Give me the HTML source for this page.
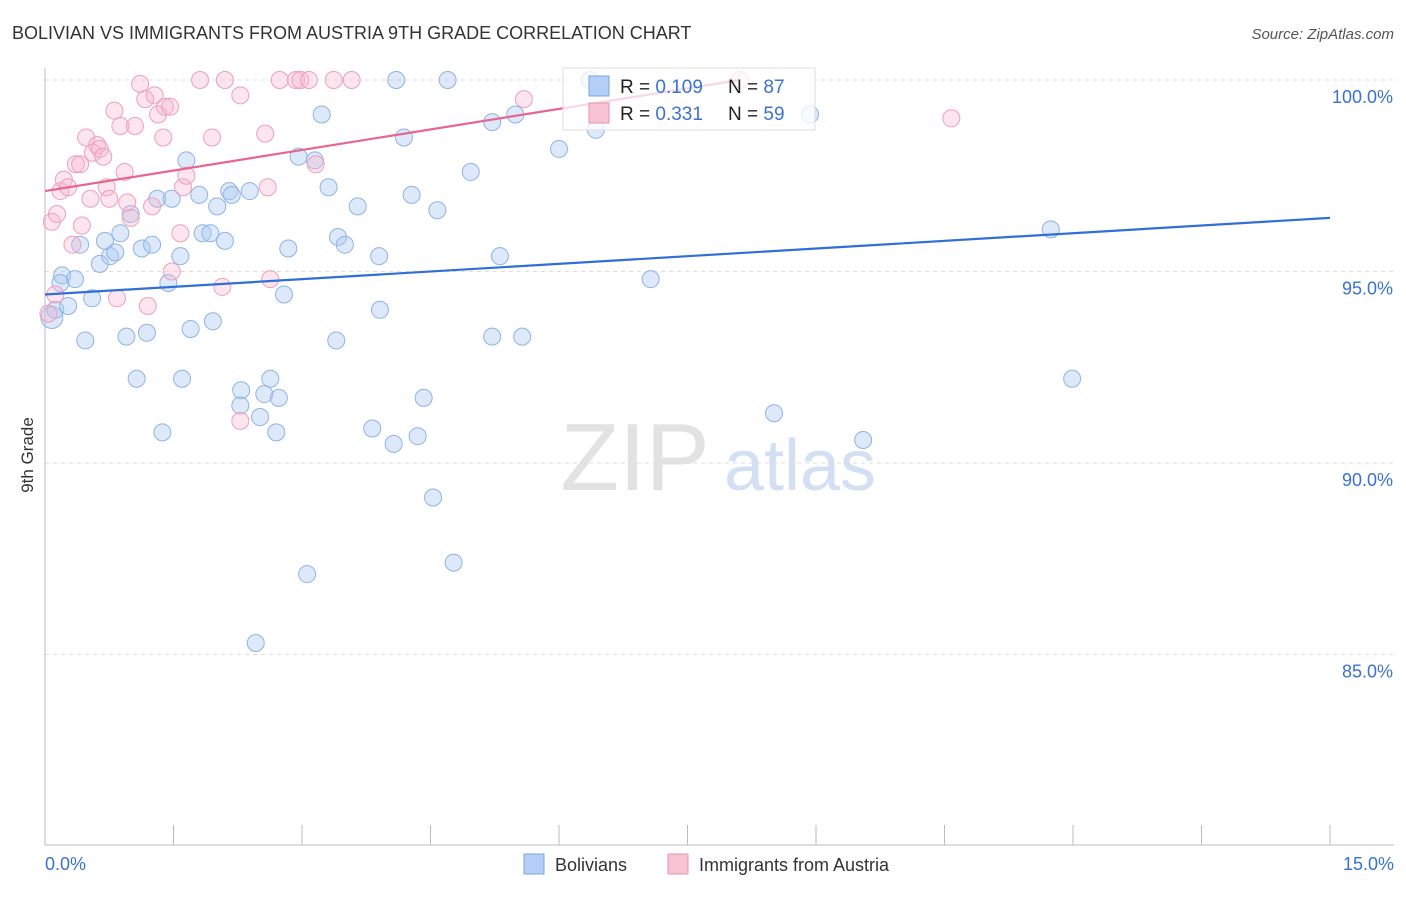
<!DOCTYPE html>
<html><head><meta charset="utf-8">
<style>
body{margin:0;background:#fff;font-family:"Liberation Sans",sans-serif;}
svg text{font-family:"Liberation Sans",sans-serif;}
</style></head>
<body>
<svg id="chart" width="1406" height="892" xmlns="http://www.w3.org/2000/svg">
<text x="12" y="39" font-size="18" fill="#333">BOLIVIAN VS IMMIGRANTS FROM AUSTRIA 9TH GRADE CORRELATION CHART</text>
<text x="1394" y="39" font-size="15" fill="#555" font-style="italic" text-anchor="end">Source: ZipAtlas.com</text>
<text transform="translate(33,455) rotate(-90)" font-size="17" fill="#333" text-anchor="middle">9th Grade</text>
<g>
<text x="635" y="490" font-size="96" fill="#e2e2e2" font-family="Liberation Serif,serif" text-anchor="middle">ZIP</text>
<text x="800" y="490" font-size="72" fill="#d3e0f3" text-anchor="middle">atlas</text>
</g>
<g id="grid"></g>
<g id="axes"></g>
<g id="pts"></g>
<g id="trend"></g>
<g>
<rect x="563" y="68" width="252" height="62" fill="#fff" fill-opacity="0.75" stroke="#ddd"/>
<rect x="589" y="76" width="20" height="20" fill="#b3cff5" stroke="#7aa6e0"/>
<rect x="589" y="103" width="20" height="20" fill="#f8c3d3" stroke="#e891ad"/>
<text x="620" y="93" font-size="19" fill="#222">R = <tspan fill="#3a72d0">0.109</tspan></text>
<text x="728" y="93" font-size="19" fill="#222">N = <tspan fill="#3a72d0">87</tspan></text>
<text x="620" y="120" font-size="19" fill="#222">R = <tspan fill="#3a72d0">0.331</tspan></text>
<text x="728" y="120" font-size="19" fill="#222">N = <tspan fill="#3a72d0">59</tspan></text>
</g>
<g>
<rect x="524" y="854" width="20" height="20" fill="#b3cff5" stroke="#7aa6e0"/>
<text x="555" y="871" font-size="18" fill="#333">Bolivians</text>
<rect x="668" y="854" width="20" height="20" fill="#f8c3d3" stroke="#e891ad"/>
<text x="699" y="871" font-size="18" fill="#333">Immigrants from Austria</text>
</g>
</svg>
<script>
const xTicks=[0,1.5,3,4.5,6,7.5,9,10.5,12,13.5,15];
const yTicks=[100,95,90,85];
const yTickLabels=["100.0%","95.0%","90.0%","85.0%"];
const blueX=[0.08,0.12,0.2,0.27,0.35,0.18,0.47,0.41,0.55,0.64,0.7,0.76,0.82,0.88,0.95,1.0,1.07,1.13,1.19,1.25,1.31,1.37,1.44,1.48,1.58,1.6,1.65,1.7,1.8,1.84,1.93,1.96,2.01,2.1,2.15,2.18,2.29,2.28,2.39,2.46,2.51,2.56,2.63,2.7,2.73,2.79,2.84,2.96,3.06,3.15,3.23,3.31,3.4,3.42,3.5,3.65,3.82,3.9,3.91,4.07,4.1,4.19,4.28,4.35,4.42,4.53,4.58,4.7,4.77,4.97,5.22,5.22,5.31,5.49,5.57,6.0,6.36,6.43,7.07,8.51,8.93,9.55,11.74,11.99];
const blueY=[93.8,94.0,94.9,94.1,94.8,94.7,93.2,95.7,94.3,95.2,95.8,95.4,95.5,96.0,93.3,96.5,92.2,95.6,93.4,95.7,96.9,90.8,94.7,96.9,95.4,92.2,97.9,93.5,97.0,96.0,96.0,93.7,96.7,95.8,97.1,97.0,91.9,91.5,97.1,85.3,91.2,91.8,92.2,90.8,91.7,94.4,95.6,98.0,87.1,97.9,99.1,97.2,93.2,95.9,95.7,96.7,90.9,95.4,94.0,90.5,100.0,98.5,97.0,90.7,91.7,89.1,96.6,100.0,87.4,97.6,93.3,98.9,95.4,99.1,93.3,98.2,100.0,98.7,94.8,91.3,99.1,90.6,96.1,92.2];
const pinkX=[0.04,0.08,0.12,0.14,0.18,0.22,0.27,0.32,0.36,0.41,0.43,0.48,0.53,0.56,0.61,0.64,0.68,0.72,0.75,0.81,0.84,0.88,0.93,0.96,1.0,1.05,1.11,1.17,1.2,1.25,1.28,1.32,1.38,1.4,1.46,1.48,1.58,1.61,1.65,1.81,1.95,2.07,2.1,2.28,2.28,2.57,2.6,2.63,2.74,2.93,2.98,3.08,3.16,3.37,3.58,5.59,8.11,10.58];
const pinkY=[93.9,96.3,94.4,96.5,97.1,97.4,97.2,95.7,97.8,97.8,96.2,98.5,96.9,98.1,98.3,98.2,98.0,97.2,96.9,99.2,94.3,98.8,97.6,96.8,96.4,98.8,99.9,99.5,94.1,96.7,99.6,99.1,98.5,99.3,99.3,95.0,96.0,97.2,97.5,100.0,98.5,94.6,100.0,99.6,91.1,98.6,97.2,94.8,100.0,100.0,100.0,100.0,97.8,100.0,100.0,99.5,100.0,99.0];
const blueTrend=[94.4,96.4];
const pinkTrend=[97.1,100.0];
const pinkTrendEndX=8.11;
const X=v=>45+v*(1330-45)/15;
const Y=v=>80+(100-v)*38.3;
const NS="http://www.w3.org/2000/svg";
function mk(parent,tag,attrs){const e=document.createElementNS(NS,tag);for(const k in attrs)e.setAttribute(k,attrs[k]);document.getElementById(parent).appendChild(e);return e;}
yTicks.forEach((t,i)=>{
 const l=mk('grid','line',{x1:45,x2:1394,y1:Y(t),y2:Y(t),stroke:'#ddd','stroke-dasharray':'4,4'});
 
 
 const tx=mk('grid','text',{x:1393,y:Y(t)+23,'font-size':18,fill:'#3a72d0','text-anchor':'end'});
 tx.textContent=yTickLabels[i];
 
 
});
const ax=mk('axes','line',{x1:45,x2:45,y1:68,y2:845,stroke:'#bbb'});


const bx=mk('axes','line',{x1:45,x2:1394,y1:845,y2:845,stroke:'#bbb'});


xTicks.forEach(t=>{
 const l=mk('axes','line',{x1:X(t),x2:X(t),y1:825,y2:845,stroke:'#bbb'});
 
 
});
const x0=mk('axes','text',{x:45,y:870,'font-size':18,fill:'#3a72d0'});x0.textContent=xTicks[0].toFixed(1)+'%';


const x1=mk('axes','text',{x:1394,y:870,'font-size':18,fill:'#3a72d0','text-anchor':'end'});x1.textContent=xTicks[xTicks.length-1].toFixed(1)+'%';


blueX.forEach((v,i)=>{
 const c=mk('pts','circle',{cx:X(v),cy:Y(blueY[i]),r:i==0?11:8.5,fill:'rgba(170,200,240,0.4)',stroke:'#8fb3e6','stroke-width':1});
 
 
});
pinkX.forEach((v,i)=>{
 const c=mk('pts','circle',{cx:X(v),cy:Y(pinkY[i]),r:8.5,fill:'rgba(245,180,205,0.35)',stroke:'#eca0ba','stroke-width':1});
 
 
});
const bt=mk('trend','line',{x1:X(0),y1:Y(blueTrend[0]),x2:X(15),y2:Y(blueTrend[1]),stroke:'#2f6fd6','stroke-width':2.2});


const pt=mk('trend','line',{x1:X(0),y1:Y(pinkTrend[0]),x2:X(pinkTrendEndX),y2:Y(pinkTrend[1]),stroke:'#e8658e','stroke-width':2.2});


</script>
</body></html>
